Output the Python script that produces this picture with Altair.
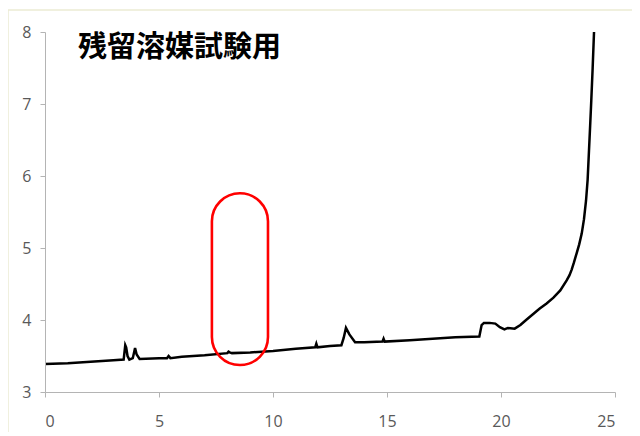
import altair as alt
import pandas as pd

# Chromatogram trace (retention time in minutes, signal)
time_min = [0, 1, 2, 3, 3.45, 3.52, 3.56, 3.62, 3.7, 3.85, 3.95, 4.02, 4.15,
            5, 5.35, 5.42, 5.5, 6, 7, 8, 8.05, 8.1, 8.2, 9, 10, 11,
            11.85, 11.9, 11.95, 12.5, 13.0, 13.1, 13.2, 13.35, 13.6, 14,
            14.8, 14.85, 14.9, 16, 17, 18, 19.05, 19.15, 19.25, 19.5, 19.75,
            19.95, 20.15, 20.3, 20.6, 20.85, 21.1, 21.4, 21.7, 22.0, 22.3,
            22.6, 22.88, 23.0, 23.1, 23.2, 23.32, 23.43, 23.54, 23.64, 23.73,
            23.8, 23.86, 23.91, 23.96, 24.02, 24.08]
signal = [3.39, 3.40, 3.42, 3.44, 3.45, 3.65, 3.62, 3.50, 3.45, 3.47, 3.61, 3.52, 3.46,
          3.47, 3.47, 3.50, 3.47, 3.49, 3.51, 3.54, 3.56, 3.55, 3.54, 3.55, 3.57, 3.60,
          3.62, 3.67, 3.62, 3.64, 3.65, 3.75, 3.89, 3.80, 3.69, 3.69,
          3.70, 3.74, 3.70, 3.72, 3.74, 3.76, 3.77, 3.93, 3.96, 3.96, 3.95,
          3.90, 3.87, 3.89, 3.88, 3.93, 4.00, 4.08, 4.16, 4.23, 4.31,
          4.41, 4.55, 4.62, 4.70, 4.80, 4.93, 5.05, 5.20, 5.40, 5.66,
          5.95, 6.36, 6.70, 7.05, 7.50, 8.00]

x_ticks = [0, 5, 10, 15, 20, 25]
y_ticks = [3, 4, 5, 6, 7, 8]

# Highlight box (data coordinates)
box_x = [7.32]
box_x2 = [9.78]
box_y = [3.375]
box_y2 = [5.76]

title_text = ["残留溶媒試験用"]
title_x = [1.45]
title_y = [7.78]

df = pd.DataFrame({"t": time_min, "s": signal})
box_df = pd.DataFrame({"x": box_x, "x2": box_x2, "y": box_y, "y2": box_y2})
title_df = pd.DataFrame({"label": title_text, "x": title_x, "y": title_y})

xscale = alt.Scale(domain=[0, 25], nice=False)
yscale = alt.Scale(domain=[3, 8], nice=False, zero=False)

axis_common = dict(
    grid=False,
    domainColor="#b4b4b4",
    tickColor="#b4b4b4",
    tickSize=5,
    labelColor="#595959",
    labelFont="Open Sans",
    labelFontSize=16,
    title=None,
    zindex=1,
    format="d",
)

frame = alt.Chart(pd.DataFrame({"k": [0]})).mark_rect(
    filled=False, stroke="#ecebd4", strokeWidth=1.5, clip=False
).encode(
    x=alt.value(-37), x2=alt.value(640), y=alt.value(-22), y2=alt.value(440)
)

line = alt.Chart(df).mark_line(color="black", strokeWidth=2.5).encode(
    x=alt.X("t:Q", scale=xscale,
            axis=alt.Axis(values=x_ticks, labelPadding=16, **axis_common)),
    y=alt.Y("s:Q", scale=yscale,
            axis=alt.Axis(values=y_ticks, labelPadding=9, **axis_common)),
)

box = alt.Chart(box_df).mark_rect(
    filled=False, stroke="#ff0000", strokeWidth=2.6, cornerRadius=28
).encode(
    x="x:Q", x2="x2:Q", y="y:Q", y2="y2:Q"
)

title = alt.Chart(title_df).mark_text(
    align="left", baseline="middle", fontSize=29, fontWeight="bold",
    font="Noto Sans CJK JP", color="black"
).encode(
    x="x:Q", y="y:Q", text="label:N"
)

chart = alt.layer(frame, line, box, title).properties(
    width=570, height=360,
    autosize=alt.AutoSizeParams(type="none"),
    padding={"left": 37, "top": 24, "right": 17, "bottom": 40},
).configure_view(stroke=None)

chart.save("out.html", embed_options={"renderer": "svg", "actions": False})
